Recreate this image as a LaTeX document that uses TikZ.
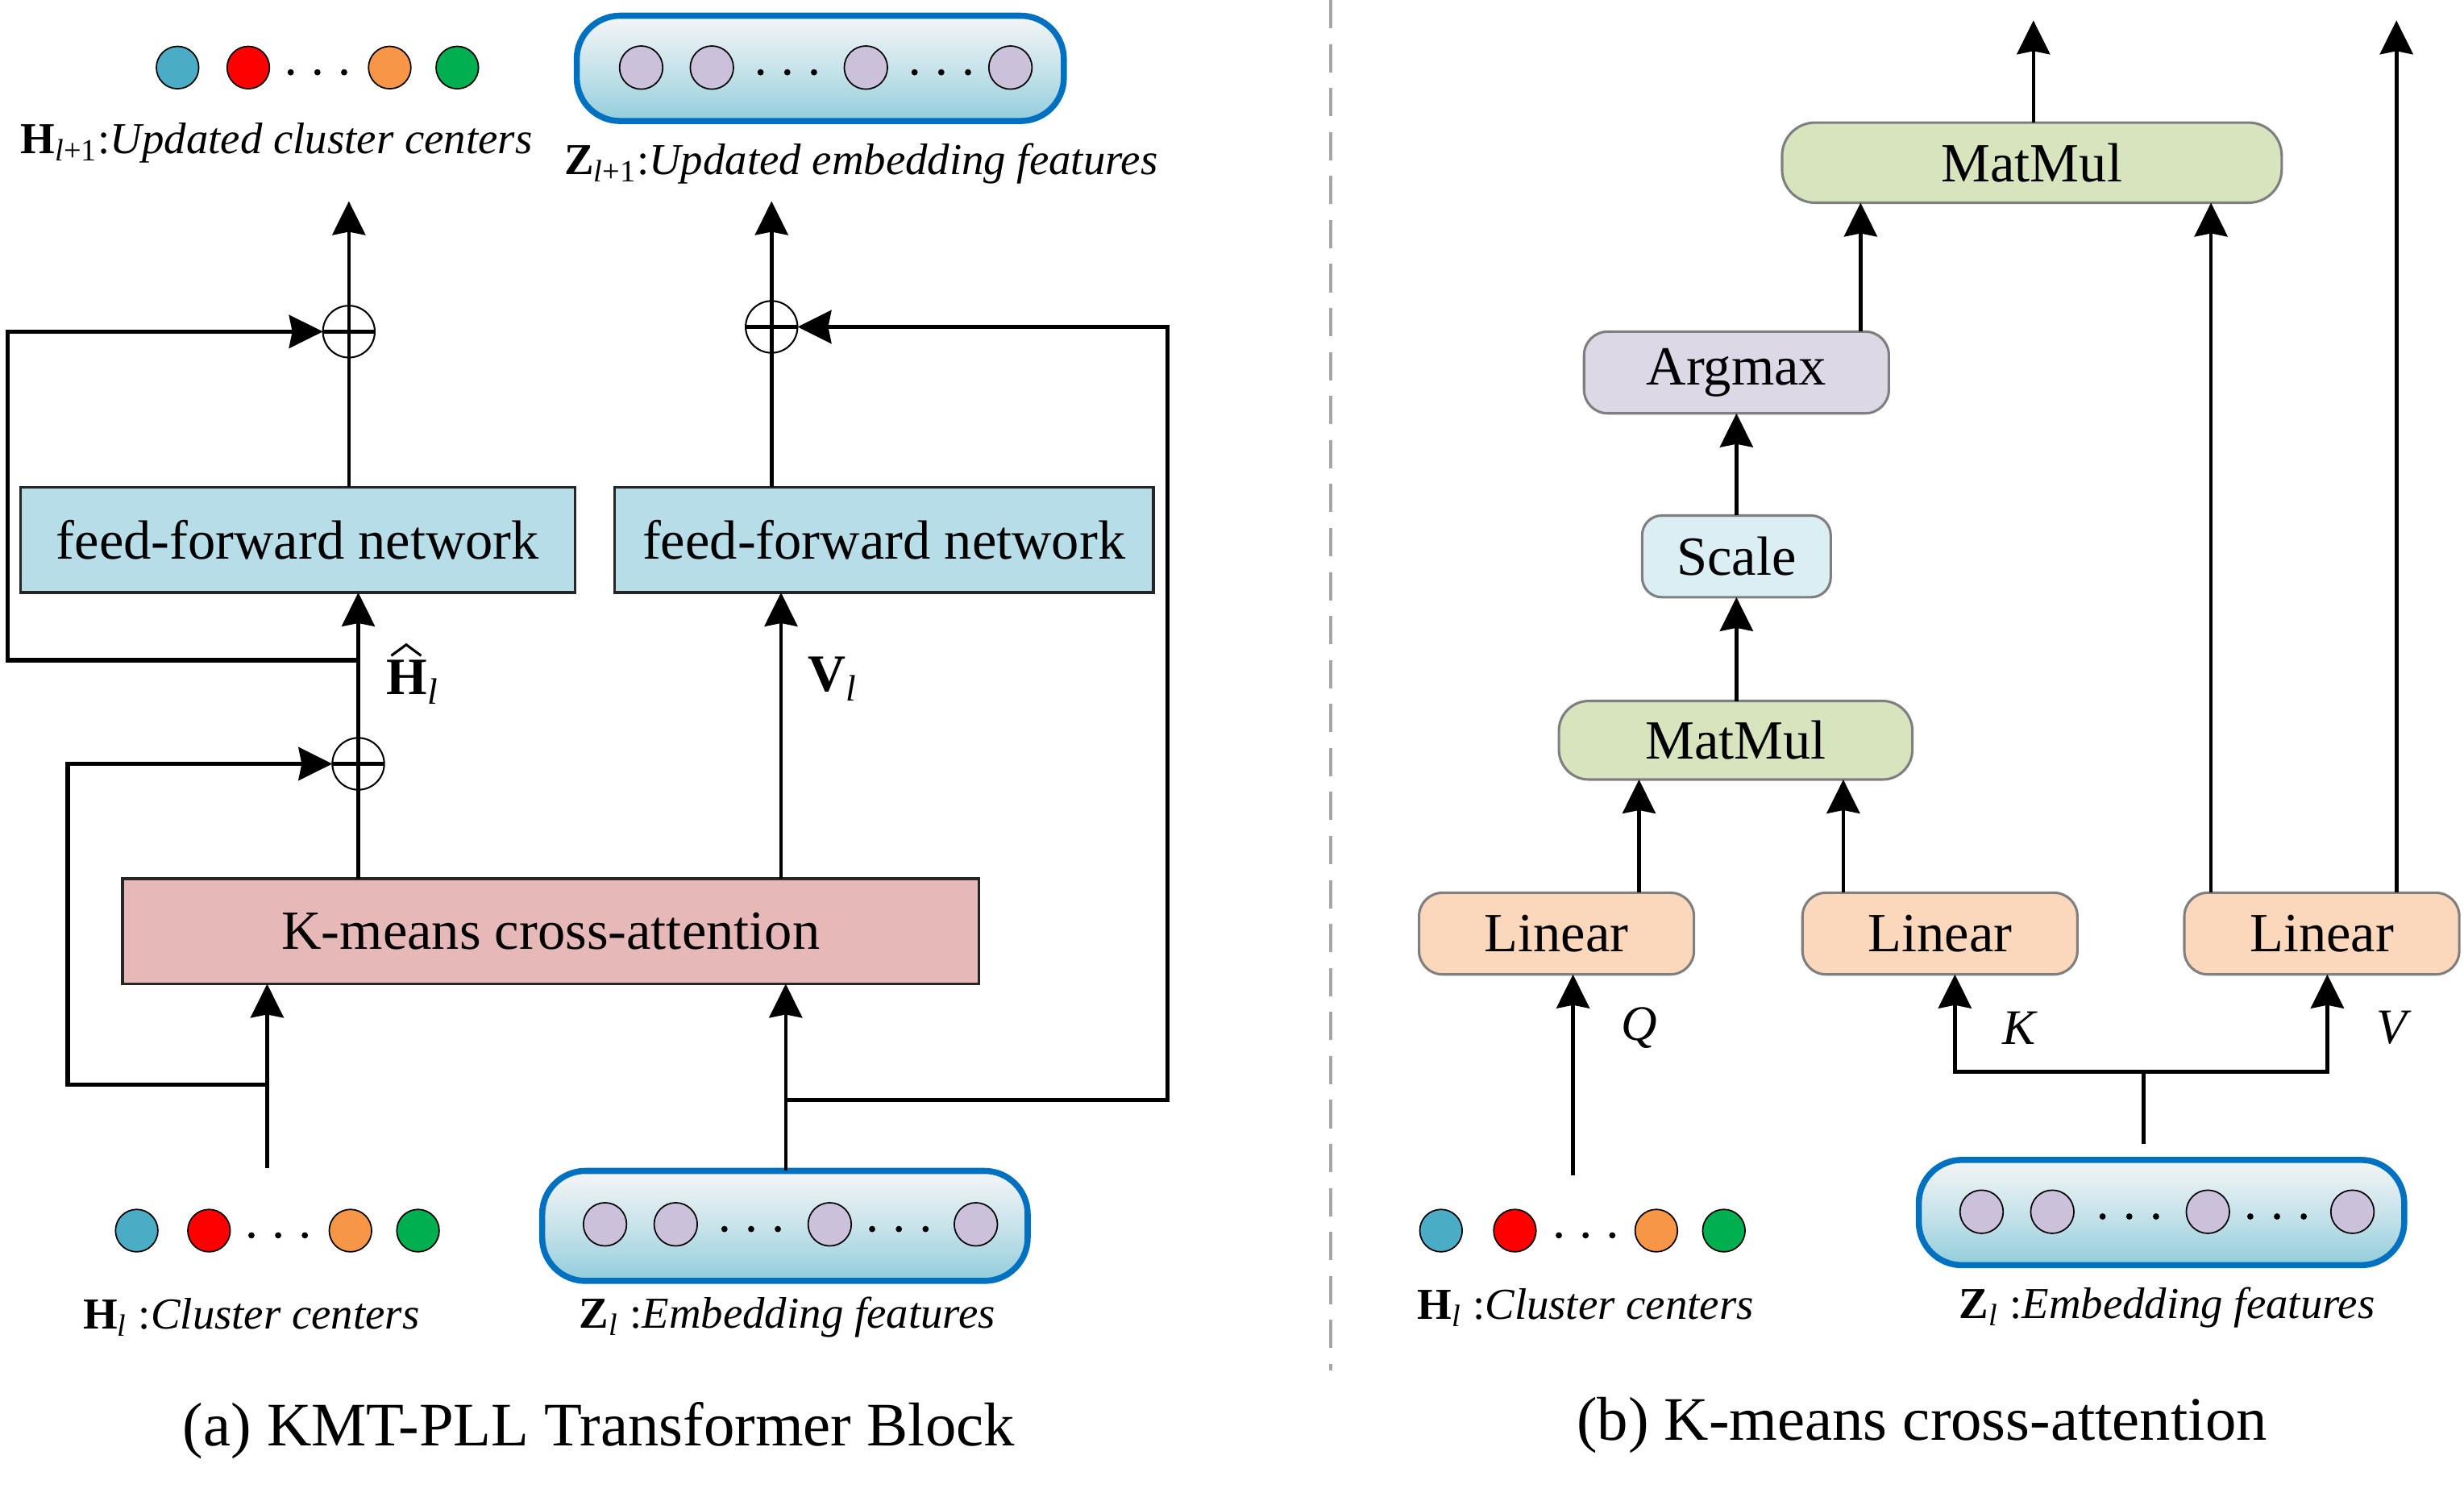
\documentclass[tikz,border=0pt]{standalone}
\usepackage{fontspec}
\setmainfont{Liberation Serif}
\usetikzlibrary{arrows.meta,calc}
\definecolor{ffnfill}{HTML}{B7DEE8}
\definecolor{kmfill}{HTML}{E6B9B8}
\definecolor{mmfill}{HTML}{D7E4BD}
\definecolor{agfill}{HTML}{DCD8E6}
\definecolor{scfill}{HTML}{DAEEF3}
\definecolor{lnfill}{HTML}{FBD7BC}
\definecolor{zblue}{HTML}{0070C0}
\definecolor{ztop}{HTML}{F4F5F6}
\definecolor{zbot}{HTML}{92CDDC}
\definecolor{lav}{HTML}{CCC1DA}
\definecolor{cblue}{HTML}{4BACC6}
\definecolor{cred}{HTML}{FF0000}
\definecolor{corange}{HTML}{F79646}
\definecolor{cgreen}{HTML}{00B050}
\definecolor{bordergray}{HTML}{7F7F7F}
\newcommand\boxfont{\fontsize{20}{24}\selectfont}
\newcommand\lblfont{\fontsize{16}{19}\selectfont}
\begin{document}
\begin{tikzpicture}[x=0.02cm,y=-0.02cm,
  every node/.style={inner sep=0pt, outer sep=0pt},
  ln/.style={line width=1.35pt},
  arr/.style={ln, -{Stealth[length=0.43cm,width=0.42cm,inset=0.04cm]}},
  feed/.style={arr, line width=1.6pt},
  sqbox/.style={draw=black!85, line width=1pt, font=\boxfont},
  rbox/.style={draw=bordergray, line width=0.9pt, font=\boxfont},
  pill/.style={draw=zblue, line width=2.2pt, rounded corners=0.55cm, top color=ztop, bottom color=zbot, middle color=zbot!45!ztop},
  cc/.style={circle, draw=black, line width=0.5pt, minimum size=0.54cm},
  ec/.style={circle, draw=black, line width=0.5pt, minimum size=0.55cm, fill=lav},
  pluscirc/.style={circle, draw=black, line width=0.6pt, minimum size=0.66cm},
  lbl/.style={font=\lblfont},
  captxt/.style={font=\fontsize{22.4}{26}\selectfont}
]
\useasboundingbox (0,0) rectangle (1568,952);

% ---------------- Panel (a) ----------------
% top outputs
\node[cc, fill=cblue] (ta1) at (113,43) {};
\node[cc, fill=cred] (ta2) at (158,43) {};
\node[cc, fill=corange] (ta3) at (248,43) {};
\node[cc, fill=cgreen] (ta4) at (291,43) {};
\foreach \x in {185,202,219} \fill (\x,46) circle[radius=0.04cm];
\node[lbl] (ltopH) at (176,91) {\textbf{H}\textsubscript{\textit{l}+1}:\textit{Updated cluster centers}};

\node[pill, minimum width=6.2cm, minimum height=1.34cm] (zt) at (522,43.5) {};
\node[ec] (zt1) at (408,43) {};
\node[ec] (zt2) at (453,43) {};
\node[ec] (zt3) at (551,43) {};
\node[ec] (zt4) at (643,43) {};
\foreach \x in {484,501,518,582,599,616} \fill (\x,46) circle[radius=0.04cm];
\node[lbl] (ltopZ) at (548,104) {\textbf{Z}\textsubscript{\textit{l}+1}:\textit{Updated embedding features}};

% boxes
\node[sqbox, fill=ffnfill, minimum width=7.06cm, minimum height=1.34cm] (ffnL) at (189.5,343.5) {feed-forward network};
\node[sqbox, fill=ffnfill, minimum width=6.86cm, minimum height=1.34cm] (ffnR) at (562.5,343.5) {feed-forward network};
\node[sqbox, fill=kmfill, minimum width=10.9cm, minimum height=1.34cm] (km) at (350.5,592.5) {K-means cross-attention};

% plus circles
\node[pluscirc] (pA) at (222,211) {};
\node[pluscirc] (pB) at (228,486) {};
\node[pluscirc] (pC) at (491,208) {};

% coordinates
\coordinate (outA) at (222,128);
\coordinate (outC) at (491,128);
\coordinate (brA) at (228,420);
\coordinate (brB) at (170,690);
\coordinate (brC) at (500,700);

% left column
\draw[arr] (222,0 |- ffnL.north) -- (outA);
\draw[feed] (brA) -- (5,420) -- (5,211) -- (pA.west);
\draw[line width=1.6pt] (pA.west) -- (pA.east);
\draw[arr] (228,0 |- km.north) -- (228,0 |- ffnL.south);
\draw[feed] (brB) -- (43,690) -- (43,486) -- (pB.west);
\draw[line width=1.6pt] (pB.west) -- (pB.east);
\draw[arr] (170,743) -- (170,0 |- km.south);

% right column
\draw[arr] (491,0 |- ffnR.north) -- (outC);
\draw[arr] (497,0 |- km.north) -- (497,0 |- ffnR.south);

% bottom inputs (a)
\node[cc, fill=cblue] (ba1) at (87,783) {};
\node[cc, fill=cred] (ba2) at (133,783) {};
\node[cc, fill=corange] (ba3) at (223,783) {};
\node[cc, fill=cgreen] (ba4) at (266,783) {};
\foreach \x in {160,177,194} \fill (\x,786) circle[radius=0.04cm];
\node[lbl] (lbotH) at (160,838) {\textbf{H}\textsubscript{\textit{l}} :\textit{Cluster centers}};

\node[pill, minimum width=6.18cm, minimum height=1.4cm] (zbl) at (499.5,780) {};
\node[ec] (zb1) at (385,779) {};
\node[ec] (zb2) at (430,779) {};
\node[ec] (zb3) at (528,779) {};
\node[ec] (zb4) at (621,779) {};
\foreach \x in {461,478,495,555,572,589} \fill (\x,782) circle[radius=0.04cm];
\node[lbl] (lbotZ) at (501,838) {\textbf{Z}\textsubscript{\textit{l}} :\textit{Embedding features}};

\draw[arr] (500,0 |- zbl.north) -- (500,0 |- km.south);
\draw[feed] (brC) -- (743,700) -- (743,208) -- (pC.east);
\draw[line width=1.6pt] (pC.west) -- (pC.east);

% side labels
\node[font=\fontsize{19}{22}\selectfont, anchor=west] (lHhat) at (246,434) {\textbf{H}\textsubscript{\textit{l}}};
\draw[line width=0.9pt, line join=miter] ($(lHhat.north west)+(3,-3)$) -- ($(lHhat.north west)+(12.5,-10)$) -- ($(lHhat.north west)+(22,-3)$);
\node[font=\fontsize{19}{22}\selectfont] (lV) at (530,432) {\textbf{V}\textsubscript{\textit{l}}};

\node[captxt] (capA) at (381,910) {(a) KMT-PLL Transformer Block};

% divider
\draw[black!35, line width=1.1pt, dash pattern=on 0.36cm off 0.2cm] (847,0) -- (847,872);

% ---------------- Panel (b) ----------------
\node[rbox, fill=mmfill, rounded corners=0.42cm, minimum width=6.36cm, minimum height=1.02cm] (mm2) at (1293,103.5) {MatMul};
\node[rbox, fill=agfill, rounded corners=0.3cm, minimum width=3.88cm, minimum height=1.04cm] (ag) at (1105,237) {Argmax};
\node[rbox, fill=scfill, rounded corners=0.25cm, minimum width=2.4cm, minimum height=1.04cm] (sc) at (1105,354) {Scale};
\node[rbox, fill=mmfill, rounded corners=0.38cm, minimum width=4.5cm, minimum height=1.0cm] (mm1) at (1104.5,471) {MatMul};
\node[rbox, fill=lnfill, rounded corners=0.3cm, minimum width=3.5cm, minimum height=1.04cm] (lq) at (990.5,594) {Linear};
\node[rbox, fill=lnfill, rounded corners=0.3cm, minimum width=3.5cm, minimum height=1.04cm] (lk) at (1234.5,594) {Linear};
\node[rbox, fill=lnfill, rounded corners=0.3cm, minimum width=3.5cm, minimum height=1.04cm] (lv) at (1477.5,594) {Linear};

\coordinate (outM) at (1294,13);
\coordinate (outV) at (1525,13);
\coordinate (inQ) at (1001,748);
\coordinate (brK) at (1364,682);
\coordinate (inZ) at (1364,728);

\draw[arr] (1294,0 |- mm2.north) -- (outM);
\draw[arr] (1525,0 |- lv.north) -- (outV);
\draw[arr] (1407,0 |- lv.north) -- (1407,0 |- mm2.south);
\draw[arr] (1184,0 |- ag.north) -- (1184,0 |- mm2.south);
\draw[arr] (sc.north) -- (ag.south);
\draw[arr] (1105,0 |- mm1.north) -- (sc.south);
\draw[arr] (1043,0 |- lq.north) -- (1043,0 |- mm1.south);
\draw[arr] (1173,0 |- lk.north) -- (1173,0 |- mm1.south);
\draw[arr] (inQ) -- (1001,0 |- lq.south);
\draw[ln] (inZ) -- (brK);
\draw[arr, line width=1.5pt] (brK) -- (1244,682) -- (1244,0 |- lk.south);
\draw[arr, line width=1.5pt] (brK) -- (1481,682) -- (1481,0 |- lv.south);

\node[font=\fontsize{18}{21}\selectfont\itshape] (lQ) at (1043,654) {Q};
\node[font=\fontsize{18}{21}\selectfont\itshape] (lK) at (1285,654) {K};
\node[font=\fontsize{18}{21}\selectfont\itshape] (lVV) at (1522,654) {V};

% bottom inputs (b)
\node[cc, fill=cblue] (bb1) at (917,783) {};
\node[cc, fill=cred] (bb2) at (964,783) {};
\node[cc, fill=corange] (bb3) at (1054,783) {};
\node[cc, fill=cgreen] (bb4) at (1097,783) {};
\foreach \x in {992,1009,1026} \fill (\x,786) circle[radius=0.04cm];
\node[lbl] (rbotH) at (1009,832) {\textbf{H}\textsubscript{\textit{l}} :\textit{Cluster centers}};

\node[pill, minimum width=6.18cm, minimum height=1.34cm] (zbr) at (1375.5,771.5) {};
\node[ec] (zr1) at (1261,771) {};
\node[ec] (zr2) at (1306,771) {};
\node[ec] (zr3) at (1405,771) {};
\node[ec] (zr4) at (1497,771) {};
\foreach \x in {1338,1355,1372,1432,1449,1466} \fill (\x,774) circle[radius=0.04cm];
\node[lbl] (rbotZ) at (1379,832) {\textbf{Z}\textsubscript{\textit{l}} :\textit{Embedding features}};

\node[captxt] (capB) at (1223,907) {(b) K-means cross-attention};
\end{tikzpicture}
\end{document}
